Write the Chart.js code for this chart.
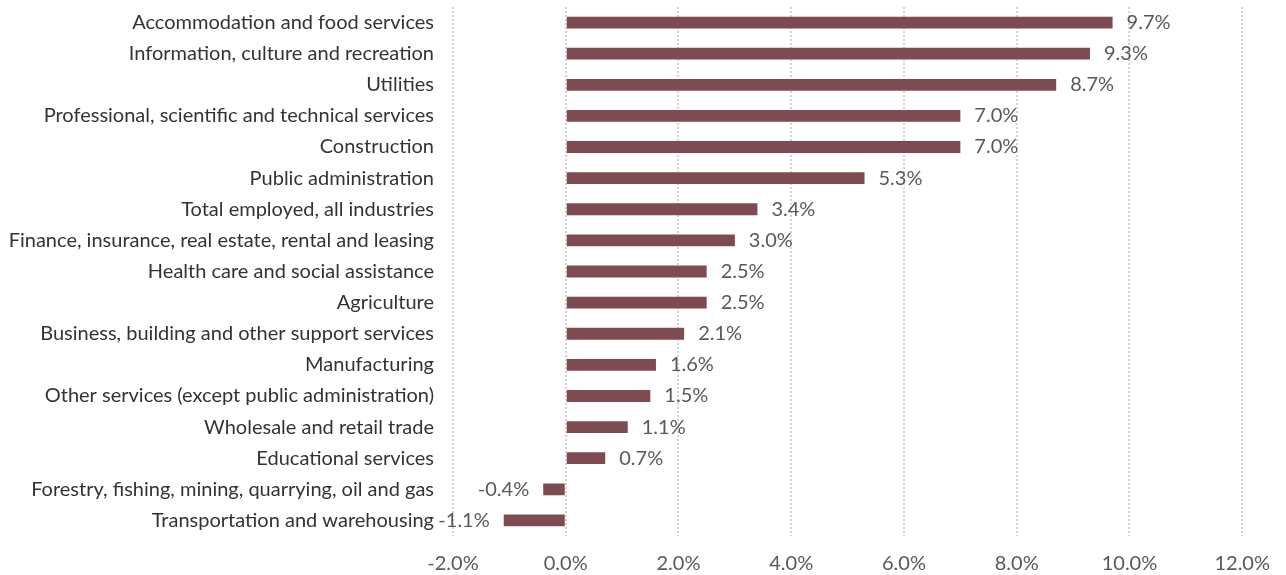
<!DOCTYPE html>
<html>
<head>
<meta charset="utf-8">
<script src="https://cdn.jsdelivr.net/npm/chart.js@4/dist/chart.umd.min.js"></script>
<style>
  html, body { margin: 0; padding: 0; background: #fff; }
  #wrap { width: 1286px; height: 575px; }
</style>
</head>
<body>
<div id="wrap"><canvas id="canvas-growth"></canvas></div>
<script>
var industries = [
    'Accommodation and food services',
    'Information, culture and recreation',
    'Utilities',
    'Professional, scientific and technical services',
    'Construction',
    'Public administration',
    'Total employed, all industries',
    'Finance, insurance, real estate, rental and leasing',
    'Health care and social assistance',
    'Agriculture',
    'Business, building and other support services',
    'Manufacturing',
    'Other services (except public administration)',
    'Wholesale and retail trade',
    'Educational services',
    'Forestry, fishing, mining, quarrying, oil and gas',
    'Transportation and warehousing'
];
var growthPct = [9.7, 9.3, 8.7, 7.0, 7.0, 5.3, 3.4, 3.0, 2.5, 2.5, 2.1, 1.6, 1.5, 1.1, 0.7, -0.4, -1.1];

var axisMin = -2;
var axisMax = 12;
var axisStep = 2;

var FONT = 'Lato, "Noto Sans", sans-serif';
var TEXT_COLOR = '#595959';

// draws value labels at the outer end of each bar
var barLabels = {
    id: 'barLabels',
    afterDatasetsDraw: function (chart) {
        var ctx = chart.ctx;
        var meta = chart.getDatasetMeta(0);
        ctx.save();
        ctx.font = '20px ' + FONT;
        ctx.fillStyle = TEXT_COLOR;
        ctx.textBaseline = 'middle';
        meta.data.forEach(function (bar, i) {
            var v = growthPct[i];
            var txt = v.toFixed(1) + '%';
            if (v >= 0) {
                ctx.textAlign = 'left';
                ctx.fillText(txt, bar.x + 14, bar.y);
            } else {
                ctx.textAlign = 'right';
                ctx.fillText(txt, bar.x - 14, bar.y);
            }
        });
        ctx.restore();
    }
};

var config = {
    type: 'bar',
    data: {
        labels: industries,
        datasets: [{
            data: growthPct,
            backgroundColor: '#7e4b53',
            borderWidth: 0,
            categoryPercentage: 1,
            barPercentage: 0.38
        }]
    },
    options: {
        indexAxis: 'y',
        responsive: true,
        maintainAspectRatio: false,
        animation: false,
        layout: { padding: { top: 7, right: 41, bottom: 0, left: 0 } },
        plugins: {
            legend: { display: false },
            tooltip: { enabled: false }
        },
        scales: {
            x: {
                min: axisMin,
                max: axisMax,
                ticks: {
                    stepSize: axisStep,
                    color: TEXT_COLOR,
                    font: { family: FONT, size: 20 },
                    padding: 16,
                    callback: function (v) { return v.toFixed(1) + '%'; }
                },
                grid: {
                    color: '#d4d4d4',
                    lineWidth: 2,
                    drawTicks: false
                },
                border: { display: false, dash: [2, 2] },
                afterFit: function (scale) { scale.height = 39; }
            },
            y: {
                ticks: {
                    color: '#333333',
                    font: { family: FONT, size: 20 },
                    padding: 19,
                    autoSkip: false
                },
                grid: { display: false, drawTicks: false },
                border: { display: false },
                afterFit: function (scale) {
                    scale.width = 453;
                    scale.paddingTop = 0;
                    scale.paddingBottom = 0;
                }
            }
        }
    },
    plugins: [barLabels]
};

var ctx = document.getElementById('canvas-growth');
window.myBar = new Chart(ctx, config);
</script>
</body>
</html>
